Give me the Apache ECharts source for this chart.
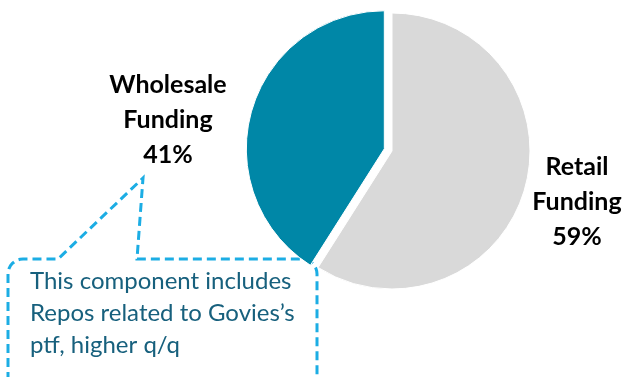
<!DOCTYPE html>
<html>
<head>
<meta charset="utf-8">
<script src="https://cdn.jsdelivr.net/npm/echarts@6/dist/echarts.min.js"></script>
<style>
  html, body { margin: 0; padding: 0; background: #fff; }
  #chart { width: 627px; height: 377px; }
</style>
</head>
<body>
<div id="chart"></div>
<script>
// Funding mix
const categories = ['Retail Funding', 'Wholesale Funding'];
const shares = [59, 41];
const sliceColors = ['#D9D9D9', '#0087A7'];
const noteLines = ['This component includes', 'Repos related to Govies\u2019s', 'ptf, higher q/q'];

const chart = echarts.init(document.getElementById('chart'));

// Rounded-corner points for the callout outline
function corner(cx, cy, r, a0, a1) {
  const pts = [];
  for (let k = 0; k <= 8; k++) {
    const a = (a0 + (a1 - a0) * k / 8) * Math.PI / 180;
    pts.push([cx + r * Math.cos(a), cy + r * Math.sin(a)]);
  }
  return pts;
}
const calloutPoints = [].concat(
  [[8, 395]],
  corner(23, 274, 15, 180, 270),
  [[58, 259], [143, 178], [137, 259]],
  corner(302, 274, 15, 270, 360),
  [[317, 395]]
);

// Slice captions: name split over two lines, then the share
const total = shares.reduce((a, b) => a + b, 0);
const captionSpots = [[577, 202], [168, 120]];
const captions = categories.map((name, i) => ({
  type: 'text',
  x: captionSpots[i][0],
  y: captionSpots[i][1],
  style: {
    text: name.replace(' ', '\n') + '\n' + Math.round(shares[i] / total * 100) + '%',
    fill: '#000',
    font: 'bold 25px Lato',
    lineHeight: 35,
    align: 'center',
    verticalAlign: 'middle'
  }
}));

const option = {
  animation: false,
  series: [{
    type: 'pie',
    center: [392, 151],
    radius: [0, 138],
    startAngle: 90,
    clockwise: true,
    selectedMode: 'single',
    selectedOffset: 8,
    emphasis: { disabled: true },
    itemStyle: { borderColor: '#fff', borderWidth: 1 },
    label: { show: false },
    labelLine: { show: false },
    data: categories.map((name, i) => ({
      name,
      value: shares[i],
      selected: i === 1,
      itemStyle: { color: sliceColors[i] }
    }))
  }],
  graphic: captions.concat([
    {
      type: 'polyline',
      shape: { points: calloutPoints },
      style: {
        fill: null,
        stroke: '#1CADE4',
        lineWidth: 3,
        lineDash: [9, 5]
      }
    },
    {
      type: 'text',
      left: 30,
      top: 265,
      style: {
        text: noteLines.join('\n'),
        fill: '#17607D',
        font: '24px Lato',
        lineHeight: 32
      }
    }
  ])
};

chart.setOption(option);
</script>
</body>
</html>
